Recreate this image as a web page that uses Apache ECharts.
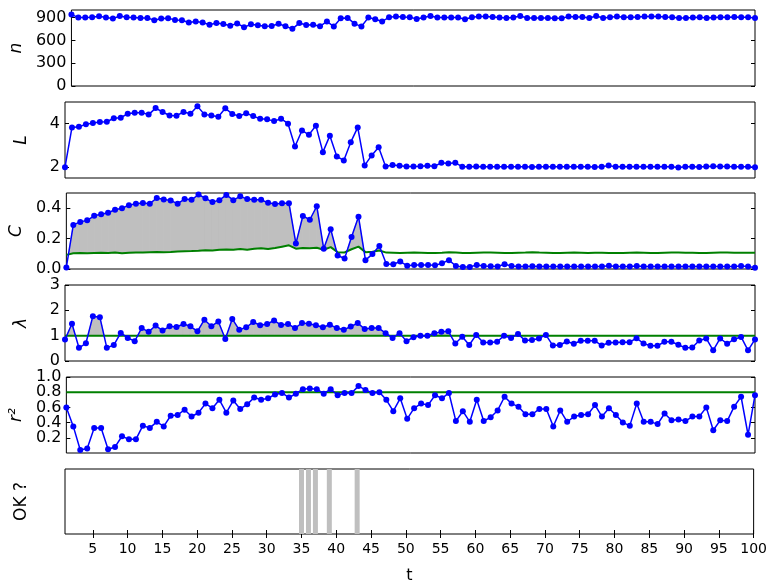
<!DOCTYPE html>
<html>
<head>
<meta charset="utf-8">
<script src="https://cdn.jsdelivr.net/npm/echarts@6/dist/echarts.min.js"></script>
<style>
  html, body { margin: 0; padding: 0; background: #fff; }
  #main { width: 770px; height: 585px; }
</style>
</head>
<body>
<div id="main"></div>
<script>
// time steps 1..100
var t = [];
for (var i = 1; i <= 100; i++) t.push(i);

var tTicks = [5, 10, 15, 20, 25, 30, 35, 40, 45, 50, 55, 60, 65, 70, 75, 80, 85, 90, 95, 100];

var nVals = [
  942, 900, 900, 904, 917, 900, 887, 921, 904, 900,
  896, 896, 866, 887, 891, 870, 866, 836, 849, 836,
  807, 828, 816, 794, 824, 773, 811, 798, 786, 790,
  820, 786, 752, 828, 803, 807, 786, 849, 782, 891,
  896, 820, 782, 900, 879, 849, 904, 913, 908, 904,
  883, 900, 921, 900, 900, 900, 900, 879, 904, 913,
  913, 908, 900, 896, 900, 921, 896, 896, 896, 896,
  891, 891, 913, 908, 908, 896, 921, 896, 904, 913,
  904, 904, 908, 913, 913, 913, 908, 904, 896, 896,
  900, 904, 896, 900, 904, 904, 908, 904, 904, 896
];

var LVals = [
  2.00, 3.83, 3.86, 3.97, 4.03, 4.08, 4.09, 4.25, 4.28, 4.46,
  4.51, 4.51, 4.42, 4.72, 4.54, 4.38, 4.37, 4.54, 4.46, 4.80,
  4.43, 4.38, 4.32, 4.71, 4.45, 4.35, 4.48, 4.35, 4.23, 4.20,
  4.12, 4.23, 4.00, 2.95, 3.69, 3.49, 3.91, 2.69, 3.45, 2.49,
  2.31, 3.15, 3.83, 2.08, 2.54, 2.92, 2.03, 2.10, 2.06, 2.03,
  2.03, 2.04, 2.06, 2.04, 2.20, 2.17, 2.20, 2.02, 2.02, 2.03,
  2.02, 2.02, 2.02, 2.02, 2.02, 2.02, 2.02, 2.01, 2.02, 2.02,
  2.02, 2.02, 2.02, 2.02, 2.02, 2.02, 2.01, 2.02, 2.07, 2.02,
  2.02, 2.02, 2.02, 2.02, 2.02, 2.02, 2.02, 2.02, 1.98, 2.02,
  2.02, 2.01, 2.03, 2.04, 2.03, 2.03, 2.02, 2.02, 2.02, 2.00
];

var CVals = [
  0.010, 0.290, 0.310, 0.320, 0.350, 0.360, 0.370, 0.390, 0.400, 0.420,
  0.430, 0.435, 0.430, 0.467, 0.458, 0.450, 0.430, 0.460, 0.455, 0.490,
  0.465, 0.440, 0.453, 0.487, 0.453, 0.478, 0.460, 0.455, 0.455, 0.436,
  0.427, 0.433, 0.433, 0.167, 0.349, 0.324, 0.413, 0.133, 0.262, 0.089,
  0.069, 0.211, 0.344, 0.058, 0.098, 0.151, 0.033, 0.031, 0.049, 0.022,
  0.027, 0.027, 0.027, 0.024, 0.038, 0.058, 0.020, 0.013, 0.013, 0.027,
  0.020, 0.018, 0.016, 0.031, 0.020, 0.016, 0.016, 0.018, 0.016, 0.016,
  0.016, 0.016, 0.016, 0.016, 0.016, 0.016, 0.016, 0.016, 0.022, 0.016,
  0.016, 0.016, 0.020, 0.016, 0.016, 0.016, 0.016, 0.016, 0.016, 0.016,
  0.016, 0.016, 0.016, 0.016, 0.016, 0.016, 0.016, 0.020, 0.016, 0.009
];

// green reference curve of the C panel
var CRand = [
  0.093, 0.104, 0.105, 0.104, 0.106, 0.107, 0.105, 0.108, 0.104, 0.107,
  0.108, 0.108, 0.110, 0.112, 0.110, 0.112, 0.115, 0.117, 0.118, 0.120,
  0.124, 0.122, 0.126, 0.129, 0.127, 0.131, 0.127, 0.133, 0.137, 0.131,
  0.138, 0.147, 0.156, 0.134, 0.138, 0.137, 0.140, 0.127, 0.144, 0.111,
  0.109, 0.130, 0.147, 0.111, 0.113, 0.122, 0.108, 0.107, 0.106, 0.107,
  0.108, 0.107, 0.106, 0.106, 0.107, 0.110, 0.108, 0.106, 0.105, 0.107,
  0.108, 0.108, 0.107, 0.106, 0.106, 0.107, 0.108, 0.110, 0.108, 0.107,
  0.106, 0.106, 0.107, 0.108, 0.107, 0.106, 0.107, 0.107, 0.106, 0.105,
  0.106, 0.107, 0.108, 0.107, 0.106, 0.106, 0.107, 0.108, 0.108, 0.107,
  0.107, 0.106, 0.106, 0.107, 0.108, 0.108, 0.107, 0.107, 0.107, 0.107
];

var lamVals = [
  0.85, 1.47, 0.52, 0.70, 1.77, 1.73, 0.52, 0.63, 1.11, 0.91,
  0.78, 1.30, 1.15, 1.40, 1.20, 1.37, 1.34, 1.46, 1.37, 1.17,
  1.63, 1.37, 1.56, 0.87, 1.66, 1.23, 1.33, 1.54, 1.41, 1.46,
  1.60, 1.42, 1.46, 1.30, 1.50, 1.47, 1.41, 1.33, 1.43, 1.30,
  1.23, 1.36, 1.50, 1.26, 1.30, 1.30, 1.10, 0.91, 1.10, 0.78,
  0.94, 1.00, 1.00, 1.10, 1.15, 1.17, 0.69, 0.96, 0.63, 1.03,
  0.73, 0.73, 0.76, 1.00, 0.91, 1.07, 0.81, 0.83, 0.89, 1.03,
  0.61, 0.63, 0.77, 0.68, 0.80, 0.80, 0.80, 0.61, 0.72, 0.73,
  0.74, 0.74, 0.90, 0.69, 0.60, 0.60, 0.76, 0.76, 0.64, 0.52,
  0.53, 0.81, 0.89, 0.42, 0.89, 0.68, 0.86, 0.95, 0.42, 0.85
];
var lamRef = 1;

var r2Vals = [
  0.60, 0.35, 0.04, 0.06, 0.33, 0.33, 0.05, 0.08, 0.22, 0.18,
  0.18, 0.36, 0.33, 0.41, 0.35, 0.49, 0.50, 0.57, 0.48, 0.53,
  0.65, 0.59, 0.70, 0.53, 0.69, 0.58, 0.64, 0.73, 0.70, 0.72,
  0.77, 0.79, 0.73, 0.78, 0.84, 0.85, 0.84, 0.78, 0.84, 0.76,
  0.79, 0.79, 0.88, 0.83, 0.79, 0.80, 0.70, 0.55, 0.72, 0.45,
  0.59, 0.65, 0.63, 0.76, 0.72, 0.79, 0.42, 0.55, 0.41, 0.70,
  0.42, 0.47, 0.56, 0.74, 0.65, 0.61, 0.51, 0.51, 0.58, 0.58,
  0.35, 0.56, 0.41, 0.48, 0.50, 0.51, 0.63, 0.48, 0.59, 0.50,
  0.40, 0.36, 0.65, 0.41, 0.41, 0.38, 0.52, 0.43, 0.44, 0.42,
  0.48, 0.48, 0.60, 0.30, 0.43, 0.42, 0.61, 0.74, 0.24, 0.76
];
var r2Ref = 0.8;

// steps flagged as not OK
var notOk = [35, 36, 37, 39, 43];

var font = "DejaVu Sans";
var blue = "#0000ff", green = "#008000", gray = "#bfbfbf";

// labels: drawn by the main axis; labels2: drawn by a twin axis (so tight labels are not dropped)
var panels = [
  { top: 10,  min: 0,   max: 1000, ticks: [0, 300, 600, 900], labels: [0, 300, 600, 900], name: "n", italic: true, fmt: function (v) { return String(v); } },
  { top: 102, min: 1.5, max: 5,    ticks: [2, 4], labels: [2, 4], name: "L", italic: true, fmt: function (v) { return String(v); } },
  { top: 193, min: 0,   max: 0.5,  ticks: [0, 0.2, 0.4], labels: [0, 0.2, 0.4], name: "C", italic: true, fmt: function (v) { return v.toFixed(1); } },
  { top: 285, min: 0,   max: 3,    ticks: [0, 1, 2, 3], labels: [0, 1, 2, 3], name: "λ", italic: true, fmt: function (v) { return String(v); } },
  { top: 377, min: 0,   max: 1,    ticks: [0.2, 0.4, 0.6, 0.8, 1.0], labels: [0.2, 0.6, 1.0], labels2: [0.4, 0.8], name: "r²", italic: true, fmt: function (v) { return v.toFixed(1); } },
  { top: 469, min: 0,   max: 1,    ticks: [], labels: [], name: "OK ?", italic: false, fmt: function (v) { return ""; } }
];

var grids = [], xAxes = [], yAxes = [], rightY = [], twinY = [];
panels.forEach(function (p, k) {
  var last = k === panels.length - 1;
  grids.push({
    left: 65, right: 15, top: p.top, height: 76,
    show: true, borderColor: "#000", borderWidth: 1, backgroundColor: "transparent"
  });
  xAxes.push({
    type: "value", gridIndex: k, min: 1, max: 100,
    axisLine: { show: false },
    splitLine: { show: false },
    axisTick: { show: last, inside: true, length: 4, customValues: tTicks, lineStyle: { color: "#000" } },
    axisLabel: { show: last, customValues: tTicks, color: "#000", fontFamily: font, fontSize: 14, margin: 8 },
    name: last ? "t" : "", nameLocation: "middle", nameGap: 34,
    nameTextStyle: { color: "#000", fontFamily: font, fontSize: 16 }
  });
  yAxes.push({
    type: "value", gridIndex: k, min: p.min, max: p.max, position: "left",
    axisLine: { show: false },
    splitLine: { show: false },
    axisTick: { show: p.ticks.length > 0, inside: true, length: 4, customValues: p.ticks, lineStyle: { color: "#000" } },
    axisLabel: {
      show: p.labels.length > 0, customValues: p.labels, formatter: p.fmt,
      showMinLabel: true, showMaxLabel: true,
      color: "#000", fontFamily: font, fontSize: 16, margin: 5
    },
    name: p.name, nameLocation: "middle", nameRotate: 90, nameGap: 35,
    nameTextStyle: { color: "#000", fontFamily: font, fontSize: 17, fontStyle: p.italic ? "italic" : "normal" }
  });
  rightY.push({
    type: "value", gridIndex: k, min: p.min, max: p.max, position: "right",
    axisLine: { show: false },
    splitLine: { show: false },
    axisTick: { show: p.ticks.length > 0, inside: true, length: 4, customValues: p.ticks, lineStyle: { color: "#000" } },
    axisLabel: { show: false }
  });
  if (p.labels2) {
    twinY.push({
      type: "value", gridIndex: k, min: p.min, max: p.max, position: "left", offset: 0,
      axisLine: { show: false }, splitLine: { show: false }, axisTick: { show: false },
      axisLabel: {
        customValues: p.labels2, formatter: p.fmt,
        color: "#000", fontFamily: font, fontSize: 16, margin: 5
      }
    });
  }
});
// ticks on top of the OK panel
xAxes.push({
  type: "value", gridIndex: 5, min: 1, max: 100, position: "top",
  axisLine: { show: false }, splitLine: { show: false },
  axisTick: { inside: true, length: 4, customValues: tTicks, lineStyle: { color: "#000" } },
  axisLabel: { show: false }
});
yAxes = yAxes.concat(rightY, twinY);

function pts(arr) {
  return arr.map(function (v, k) { return [t[k], v]; });
}
function blueLine(idx, arr) {
  return {
    type: "line", xAxisIndex: idx, yAxisIndex: idx, data: pts(arr),
    symbol: "circle", symbolSize: 6, showSymbol: true,
    itemStyle: { color: blue }, lineStyle: { color: blue, width: 1.5 },
    z: 5, silent: true, animation: false
  };
}
function greenLine(idx, arr) {
  return {
    type: "line", xAxisIndex: idx, yAxisIndex: idx, data: pts(arr),
    symbol: "none", lineStyle: { color: green, width: 2 },
    z: 4, silent: true, animation: false
  };
}

// gray fill where the curve is above its reference, one polygon per segment
function fillAbove(idx, vals, ref) {
  var segs = [];
  for (var k = 0; k < vals.length - 1; k++) {
    segs.push([t[k], t[k + 1], vals[k], vals[k + 1], ref[k], ref[k + 1]]);
  }
  return {
    type: "custom", xAxisIndex: idx, yAxisIndex: idx, data: segs,
    encode: { x: [0, 1], y: [2, 3, 4, 5] },
    z: 2, silent: true, animation: false,
    renderItem: function (params, api) {
      var x0 = api.value(0), x1 = api.value(1);
      var b0 = api.value(2), b1 = api.value(3), g0 = api.value(4), g1 = api.value(5);
      var d0 = b0 - g0, d1 = b1 - g1;
      var poly;
      if (d0 <= 0 && d1 <= 0) return null;
      if (d0 >= 0 && d1 >= 0) {
        poly = [[x0, b0], [x1, b1], [x1, g1], [x0, g0]];
      } else {
        var f = d0 / (d0 - d1);
        var xc = x0 + f * (x1 - x0), yc = g0 + f * (g1 - g0);
        poly = d0 > 0 ? [[x0, b0], [xc, yc], [x0, g0]] : [[xc, yc], [x1, b1], [x1, g1]];
      }
      return {
        type: "polygon",
        shape: { points: poly.map(function (p) { return api.coord(p); }) },
        style: { fill: gray, stroke: gray, lineWidth: 1 }
      };
    }
  };
}

var lamBase = t.map(function () { return lamRef; });
var r2Base = t.map(function () { return r2Ref; });

var series = [];
series.push(blueLine(0, nVals));
series.push(blueLine(1, LVals));
series.push(fillAbove(2, CVals, CRand));
series.push(greenLine(2, CRand));
series.push(blueLine(2, CVals));
series.push(fillAbove(3, lamVals, lamBase));
series.push(greenLine(3, lamBase));
series.push(blueLine(3, lamVals));
series.push(greenLine(4, r2Base));
series.push(blueLine(4, r2Vals));
series.push({
  type: "bar", xAxisIndex: 5, yAxisIndex: 5,
  data: notOk.map(function (s) { return [s, 1]; }),
  barWidth: 5, itemStyle: { color: gray }, silent: true, animation: false
});

var chart = echarts.init(document.getElementById("main"));
chart.setOption({
  backgroundColor: "#fff",
  animation: false,
  grid: grids,
  xAxis: xAxes,
  yAxis: yAxes,
  series: series
});
</script>
</body>
</html>
